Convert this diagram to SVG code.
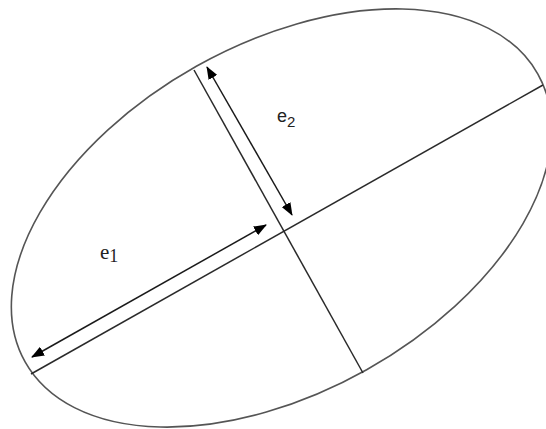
<svg xmlns="http://www.w3.org/2000/svg" width="546" height="429" viewBox="0 0 546 429">
<style>
.outline{fill:none;stroke:#555;stroke-width:1.6}
.axis{fill:none;stroke:#2a2a2a;stroke-width:1.5}
.arrow{fill:none;stroke:#1a1a1a;stroke-width:1.5}
.lbl{fill:#222}
</style>
<defs>
<marker id="ah" viewBox="0 0 13 10" refX="12" refY="5" markerWidth="13" markerHeight="10" markerUnits="userSpaceOnUse" orient="auto-start-reverse">
<path d="M0,0 L13,5 L0,10 Z" fill="#000"/>
</marker>
</defs>
<rect width="546" height="429" fill="#fff"/>
<g id="ellipse">
<ellipse class="outline" cx="281.5" cy="218" rx="294" ry="174" transform="rotate(-29.3 281.5 218)"/>
</g>
<g id="connectors">
<line id="major-axis" class="axis" x1="31" y1="374" x2="543" y2="85"/>
<line id="minor-axis" class="axis" x1="194" y1="70" x2="363" y2="373"/>
<line id="e1-arrow" class="arrow" x1="32" y1="357" x2="266" y2="225" marker-start="url(#ah)" marker-end="url(#ah)"/>
<line id="e2-arrow" class="arrow" x1="207" y1="67" x2="292" y2="215" marker-start="url(#ah)" marker-end="url(#ah)"/>
</g>
<g id="label-e1">
<text class="lbl" x="100" y="259" font-family="Liberation Serif, serif" font-size="21">e<tspan font-size="18" dy="3">1</tspan></text>
</g>
<g id="label-e2">
<text class="lbl" x="277" y="122" font-family="Liberation Sans, sans-serif" font-size="18">e<tspan font-size="15" dy="5">2</tspan></text>
</g>
</svg>
